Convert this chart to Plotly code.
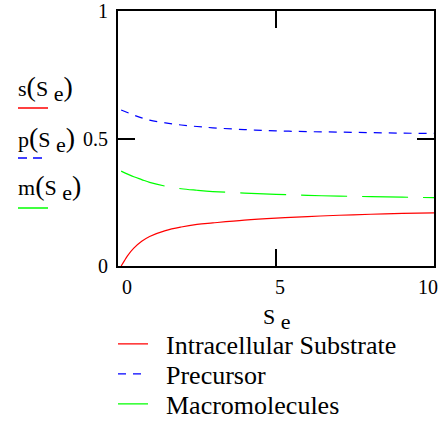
import plotly.graph_objects as go

# data
se_s = [0.1, 0.2, 0.3, 0.5, 0.75, 1, 1.5, 2, 2.5, 3, 4, 5, 6, 7, 8, 9, 10]
s_vals = [0.0, 0.02, 0.04, 0.07, 0.097, 0.116, 0.139, 0.153, 0.163, 0.169, 0.18, 0.188, 0.194, 0.199, 0.203, 0.206, 0.208]
se_pm = [0.1, 0.5, 0.75, 1, 1.5, 2, 2.5, 3, 4, 5, 6, 7, 8, 9, 10]
p_vals = [0.612, 0.592, 0.581, 0.572, 0.561, 0.553, 0.547, 0.542, 0.535, 0.530, 0.527, 0.525, 0.523, 0.521, 0.520]
m_vals = [0.372, 0.35, 0.339, 0.328, 0.313, 0.303, 0.297, 0.292, 0.286, 0.281, 0.277, 0.274, 0.272, 0.270, 0.268]
names = ["Intracellular Substrate", "Precursor", "Macromolecules"]
x_ticks = [0, 5, 10]
y_ticks = [0, 0.5, 1]

FONT = "Liberation Serif"
L, R, T, B = 118, 8, 11, 158
W, H = 442, 424
pw, ph = W - L - R, H - T - B

def px(xp):
    return (xp - L) / pw

def py(yp):
    return (T + ph - yp) / ph

fig = go.Figure()
fig.add_trace(go.Scatter(x=se_s, y=s_vals, mode="lines", name="\u00a0\u00a0" + names[0],
                         line=dict(color="#ff0000", width=1.2, shape="spline"), legend="legend"))
fig.add_trace(go.Scatter(x=se_pm, y=p_vals, mode="lines", name="\u00a0\u00a0" + names[1],
                         line=dict(color="#0000ff", width=1.2, dash="8px,7px", shape="spline"), legend="legend2"))
fig.add_trace(go.Scatter(x=se_pm, y=m_vals, mode="lines", name="\u00a0\u00a0" + names[2],
                         line=dict(color="#00ff00", width=1.2, dash="46px,15px", shape="spline"), legend="legend3"))

axis_common = dict(showline=True, linewidth=2, linecolor="black", mirror="ticks",
                   ticks="inside", ticklen=17, tickwidth=2, tickcolor="black",
                   showgrid=False, zeroline=False, automargin=False)
fig.update_xaxes(range=[0, 10], tickvals=x_ticks, showticklabels=False, **axis_common)
fig.update_yaxes(range=[0, 1], tickvals=y_ticks, ticktext=["0", "0.5", "1"],
                 tickfont=dict(family=FONT, size=20, color="black"), ticklabelstandoff=4, **axis_common)

ann = []
shifts = [9, 4, -6]
for v, sh in zip(x_ticks, shifts):
    ann.append(dict(x=v, y=py(287), xref="x", yref="paper", text=str(v), showarrow=False,
                    xshift=sh, yanchor="middle", font=dict(family=FONT, size=20, color="black")))
# x axis title
ann.append(dict(x=px(277), y=py(319), xref="paper", yref="paper", showarrow=False,
                xanchor="center", yanchor="middle",
                text="S <sub><span style='font-size:22px'>e</span></sub>",
                font=dict(family=FONT, size=22, color="black")))
# left y labels
for letter, ycen in [("s", 88), ("p", 139), ("m", 187)]:
    ann.append(dict(x=px(16), y=py(ycen), xref="paper", yref="paper", showarrow=False,
                    xanchor="left", yanchor="middle",
                    text=letter + "<span style='font-size:28px'>(</span>S <sub><span style='font-size:22px'>e</span></sub><span style='font-size:28px'>)</span>",
                    font=dict(family=FONT, size=22, color="black")))

shapes = [
    dict(type="line", xref="paper", yref="paper", x0=px(18), x1=px(48), y0=py(108), y1=py(108),
         line=dict(color="#ff0000", width=1.5)),
    dict(type="line", xref="paper", yref="paper", x0=px(18), x1=px(42), y0=py(158), y1=py(158),
         line=dict(color="#0000ff", width=1.5, dash="9px,6px")),
    dict(type="line", xref="paper", yref="paper", x0=px(18), x1=px(48), y0=py(208), y1=py(208),
         line=dict(color="#00ff00", width=1.5)),
]

leg = dict(font=dict(family=FONT, size=26, color="black"), xanchor="left", yanchor="middle",
           bgcolor="rgba(0,0,0,0)", borderwidth=0)
fig.update_layout(
    width=W, height=H, margin=dict(l=L, r=R, t=T, b=B, autoexpand=False),
    paper_bgcolor="white", plot_bgcolor="white",
    annotations=ann, shapes=shapes, showlegend=True,
    legend=dict(x=px(113), y=py(344), **leg),
    legend2=dict(x=px(113), y=py(374), **leg),
    legend3=dict(x=px(113), y=py(404), **leg),
)
fig.write_html("out.html", config={"displayModeBar": False},
               post_script="document.body.style.margin='0px';")
